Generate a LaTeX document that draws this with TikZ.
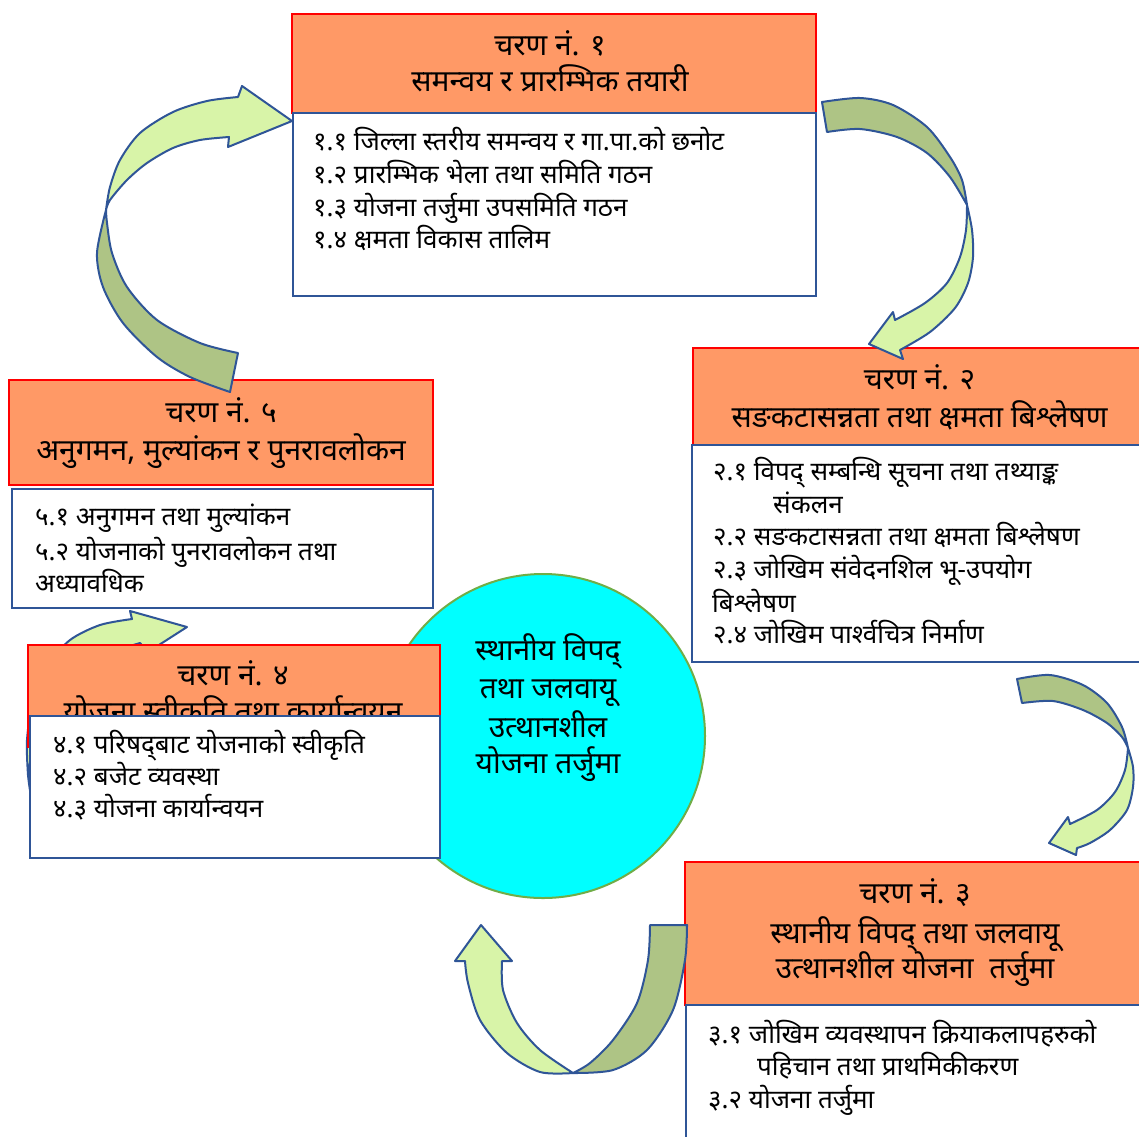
\documentclass[tikz,border=0pt]{standalone}
\usepackage{fontspec}
\newfontfamily\dev[Script=Devanagari]{Noto Sans}
\definecolor{hdrfill}{RGB}{255,153,102}
\definecolor{hdrline}{RGB}{255,0,0}
\definecolor{bodyline}{RGB}{47,85,151}
\definecolor{arrlightc}{RGB}{216,244,168}
\definecolor{arrdarkc}{RGB}{174,196,133}
\definecolor{circfill}{RGB}{0,255,255}
\definecolor{circline}{RGB}{112,173,71}
\tikzset{
  hdrbox/.style={draw=hdrline, fill=hdrfill, line width=2pt, inner sep=0pt},
  bodybox/.style={draw=bodyline, fill=white, line width=2pt, inner sep=0pt},
  htxt/.style={font=\dev\fontsize{30}{36}\selectfont, anchor=base, inner sep=0pt},
  btxt/.style={font=\dev\fontsize{26}{31}\selectfont, anchor=base west, inner sep=0pt},
  lightpart/.style={fill=arrlightc, draw=bodyline, line width=2pt, line join=round},
  darkpart/.style={fill=arrdarkc, draw=bodyline, line width=2pt, line join=round},
}
\begin{document}
\begin{tikzpicture}[x=1pt,y=-1pt]
\useasboundingbox (0,0) rectangle (1139,1136);
\clip (0,0) rectangle (1139,1136);
\fill[white] (0,0) rectangle (1139,1136);

% central circle
\node[circle, draw=circline, fill=circfill, line width=2pt, minimum size=324pt, inner sep=0pt] (core) at (543,736) {};
\node[htxt] (c1) at (548,660) {स्थानीय विपद्};
\node[htxt] (c2) at (548,698) {तथा जलवायू};
\node[htxt] (c3) at (548,737) {उत्थानशील};
\node[htxt] (c4) at (548,773) {योजना तर्जुमा};

% arrow E (4 -> 5), mostly hidden
\draw[darkpart] plot[smooth] coordinates {(28,775) (35,810) (60,835) (100,850) (178,858)} -- (180,845)
  -- plot[smooth] coordinates {(180,845) (120,835) (75,818) (45,798) (28,775)} -- cycle;
\draw[lightpart] plot[smooth] coordinates {(28,775) (27,740) (33,700) (48,665) (70,640) (100,625) (132,619)}
  -- (130,611) -- (187,627) -- (148,652) -- (140,643)
  -- plot[smooth] coordinates {(140,643) (105,655) (75,675) (50,705) (35,740) (28,775)} -- cycle;

% stage 1
\node[hdrbox, minimum width=524pt, minimum height=99pt] (h1) at (554,63.5) {};
\node[bodybox, minimum width=523pt, minimum height=183pt] (b1) at (554.5,204.5) {};
\node[htxt] (h1a) at (550,55) {चरण नं. १};
\node[htxt] (h1b) at (550,91.7) {समन्वय र प्रारम्भिक तयारी};
\node[btxt] (b1a) at (313,150) {१.१ जिल्ला स्तरीय समन्वय र गा.पा.को छनोट};
\node[btxt] (b1b) at (313,183) {१.२ प्रारम्भिक भेला तथा समिति गठन};
\node[btxt] (b1c) at (313,216) {१.३ योजना तर्जुमा उपसमिति गठन};
\node[btxt] (b1d) at (313,248) {१.४ क्षमता विकास तालिम};

% stage 2
\node[hdrbox, minimum width=453pt, minimum height=97pt] (h2) at (919.5,396.5) {};
\node[bodybox, minimum width=454pt, minimum height=217pt] (b2) at (919,553.5) {};
\node[htxt] (h2a) at (919.5,389) {चरण नं. २};
\node[htxt] (h2b) at (919.5,427) {सङकटासन्नता तथा क्षमता बिश्लेषण};
\node[btxt] (b2a) at (713,480) {२.१ विपद् सम्बन्धि सूचना तथा तथ्याङ्क};
\node[btxt] (b2b) at (773,513) {संकलन};
\node[btxt] (b2c) at (713,545) {२.२ सङकटासन्नता तथा क्षमता बिश्लेषण};
\node[btxt] (b2d) at (713,578) {२.३ जोखिम संवेदनशिल भू-उपयोग};
\node[btxt] (b2e) at (712,612) {बिश्लेषण};
\node[btxt] (b2f) at (713,643) {२.४ जोखिम पार्श्वचित्र निर्माण};

% stage 3
\node[hdrbox, minimum width=460pt, minimum height=143pt] (h3) at (915,933.5) {};
\node[bodybox, minimum width=460pt, minimum height=160pt] (b3) at (916,1085) {};
\node[htxt] (h3a) at (915,903) {चरण नं. ३};
\node[htxt] (h3b) at (915,943) {स्थानीय विपद् तथा जलवायू};
\node[htxt] (h3c) at (915,978) {उत्थानशील योजना\ \ तर्जुमा};
\node[btxt] (b3a) at (708,1043) {३.१ जोखिम व्यवस्थापन क्रियाकलापहरुको};
\node[btxt] (b3b) at (757,1075) {पहिचान तथा प्राथमिकीकरण};
\node[btxt] (b3c) at (708,1108) {३.२ योजना तर्जुमा};

% stage 4
\node[hdrbox, minimum width=412pt, minimum height=102pt] (h4) at (234,696) {};
\node[htxt] (h4a) at (233,685) {चरण नं. ४};
\node[htxt] (h4b) at (233,722) {योजना स्वीकृति तथा कार्यान्वयन};
\node[bodybox, minimum width=410pt, minimum height=142pt] (b4) at (235,787) {};
\node[btxt] (b4a) at (53,753) {४.१ परिषद्‌बाट योजनाको स्वीकृति};
\node[btxt] (b4b) at (53,785) {४.२ बजेट व्यवस्था};
\node[btxt] (b4c) at (53,817) {४.३ योजना कार्यान्वयन};

% stage 5
\node[hdrbox, minimum width=424pt, minimum height=105pt] (h5) at (221,432.5) {};
\node[bodybox, minimum width=421pt, minimum height=119pt] (b5) at (222.5,548.5) {};
\node[htxt] (h5a) at (221,422) {चरण नं. ५};
\node[htxt] (h5b) at (221,460) {अनुगमन, मुल्यांकन र पुनरावलोकन};
\node[btxt] (b5a) at (35,525) {५.१ अनुगमन तथा मुल्यांकन};
\node[btxt] (b5b) at (35,560) {५.२ योजनाको पुनरावलोकन तथा};
\node[btxt] (b5c) at (35,592) {अध्यावधिक};

% arrow A (5 -> 1)
\draw[darkpart] plot[smooth] coordinates {(106,210) (97,253) (103,287) (123,323) (157,357) (190,377) (230,392)} -- (238,353)
  -- plot[smooth] coordinates {(238,353) (200,343) (157,320) (127,287) (112,253) (107,223) (106,210)} -- cycle;
\draw[lightpart] plot[smooth] coordinates {(106,210) (110,187) (120,160) (140,133) (173,112) (207,101) (238,97)}
  -- (242,86) -- (292,121) -- (228,147) -- (229,137)
  -- plot[smooth] coordinates {(229,137) (200,140) (173,148) (147,163) (127,180) (110,200) (106,210)} -- cycle;

% arrow B (1 -> 2)
\draw[darkpart] plot[smooth] coordinates {(822,102) (860,98) (893,105) (927,127) (950,157) (962,180) (967,205)}
  -- plot[smooth] coordinates {(967,205) (950,177) (927,153) (897,137) (860,129) (827,132)} -- cycle;
\draw[lightpart] plot[smooth] coordinates {(967,205) (972,230) (973,257) (968,283) (955,308) (930,332) (900,350)}
  -- (903,359) -- (869,344) -- (893,312) -- (895,320)
  -- plot[smooth] coordinates {(895,320) (925,303) (947,283) (960,257) (966,230) (967,205)} -- cycle;

% arrow C (2 -> 3)
\draw[darkpart] plot[smooth] coordinates {(1017,679) (1050,675) (1083,685) (1107,703) (1122,727) (1128,748)}
  -- plot[smooth] coordinates {(1128,748) (1122,737) (1107,723) (1083,710) (1053,701) (1022,703)} -- cycle;
\draw[lightpart] plot[smooth] coordinates {(1128,748) (1133,767) (1133,787) (1127,810) (1110,830) (1090,843) (1077,848)}
  -- (1076,855) -- (1049,843) -- (1068,817) -- (1070,824)
  -- plot[smooth] coordinates {(1070,824) (1097,810) (1115,792) (1125,770) (1128,748)} -- cycle;

% arrow D (3 -> centre)
\draw[darkpart] plot[smooth] coordinates {(687,925) (685,960) (673,1010) (647,1050) (613,1070) (573,1073)}
  -- plot[smooth] coordinates {(573,1073) (590,1063) (613,1040) (637,1003) (648,960) (650,925)} -- cycle;
\draw[lightpart] plot[smooth] coordinates {(573,1073) (540,1072) (507,1053) (480,1020) (468,983) (465,961)}
  -- (455,961) -- (481,925) -- (512,961) -- (502,961)
  -- plot[smooth] coordinates {(502,961) (503,990) (517,1023) (540,1050) (573,1073)} -- cycle;
\end{tikzpicture}
\end{document}
